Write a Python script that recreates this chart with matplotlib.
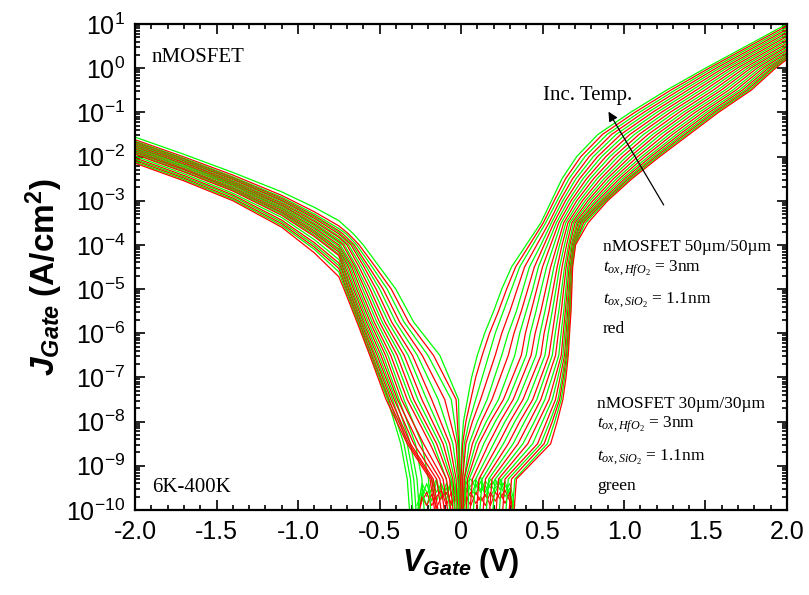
import numpy as np
import matplotlib.pyplot as plt
from matplotlib.ticker import FixedLocator, FixedFormatter, LogLocator, NullFormatter, MultipleLocator

plt.rcParams['font.family'] = 'Liberation Sans'
plt.rcParams['mathtext.fontset'] = 'custom'
plt.rcParams['mathtext.rm'] = 'Liberation Serif'
plt.rcParams['mathtext.it'] = 'Liberation Serif:italic'
plt.rcParams['mathtext.sf'] = 'Liberation Sans'
plt.rcParams['mathtext.bf'] = 'Liberation Sans:bold'
plt.rcParams['mathtext.bfit'] = 'Liberation Sans:italic:bold'
plt.rcParams['axes.unicode_minus'] = False

# curves ordered from hottest (index 0) to coldest (index 23),
# alternating the 30um device (green) and the 50um device (red)
curve_color = ['#00ff00', '#ff0000'] * 12

# ---- positive gate bias: V where each curve crosses log10(J) = level ----
pos_levels = [-10.3, -9.3, -8.5, -8.0, -7.5, -7.0, -6.5, -6.0, -5.5, -5.0, -4.5, -4.0,
              -3.5, -3.0, -2.5, -2.0, -1.5, -1.0, -0.5, 0.0]
pos_v_m103 = [0.0, 0.0, 0.0, 0.0, 0.01, 0.01, 0.02, 0.03, 0.04, 0.05, 0.07, 0.09,
              0.11, 0.13, 0.15, 0.17, 0.19, 0.21, 0.23, 0.25, 0.27, 0.29, 0.31, 0.32]
pos_v_m93 = [0.0, 0.0, 0.01, 0.01, 0.02, 0.02, 0.03, 0.04, 0.05, 0.07, 0.09, 0.11,
             0.13, 0.15, 0.17, 0.19, 0.21, 0.23, 0.25, 0.27, 0.29, 0.31, 0.33, 0.34]
pos_v_m85 = [0.005, 0.01, 0.02, 0.03, 0.05, 0.07, 0.09, 0.11, 0.14, 0.17, 0.20, 0.23,
             0.26, 0.29, 0.32, 0.35, 0.38, 0.41, 0.44, 0.47, 0.49, 0.51, 0.53, 0.55]
pos_v_m80 = [0.015, 0.03, 0.05, 0.07, 0.10, 0.125, 0.155, 0.18, 0.21, 0.24, 0.27, 0.30,
             0.33, 0.36, 0.39, 0.42, 0.45, 0.475, 0.50, 0.525, 0.545, 0.56, 0.575, 0.59]
pos_v_m75 = [0.04, 0.06, 0.09, 0.12, 0.16, 0.19, 0.23, 0.26, 0.29, 0.32, 0.35, 0.38,
             0.41, 0.44, 0.465, 0.49, 0.515, 0.54, 0.56, 0.58, 0.595, 0.605, 0.615, 0.625]
pos_v_m70 = [0.065, 0.09, 0.13, 0.165, 0.205, 0.24, 0.28, 0.315, 0.345, 0.375, 0.405, 0.435,
             0.462, 0.49, 0.512, 0.535, 0.558, 0.578, 0.594, 0.608, 0.62, 0.628, 0.636, 0.644]
pos_v_m65 = [0.10, 0.13, 0.17, 0.21, 0.25, 0.29, 0.33, 0.37, 0.40, 0.43, 0.46, 0.49,
             0.515, 0.54, 0.56, 0.58, 0.60, 0.615, 0.625, 0.635, 0.642, 0.648, 0.653, 0.658]
pos_v_m60 = [0.145, 0.175, 0.21, 0.25, 0.29, 0.325, 0.36, 0.395, 0.425, 0.455, 0.485, 0.51,
             0.535, 0.56, 0.578, 0.597, 0.614, 0.627, 0.636, 0.645, 0.651, 0.657, 0.662, 0.666]
pos_v_m55 = [0.20, 0.23, 0.26, 0.30, 0.34, 0.37, 0.40, 0.43, 0.46, 0.49, 0.515, 0.54,
             0.56, 0.58, 0.60, 0.615, 0.63, 0.64, 0.648, 0.655, 0.661, 0.666, 0.671, 0.675]
pos_v_m50 = [0.25, 0.28, 0.31, 0.345, 0.38, 0.41, 0.44, 0.465, 0.492, 0.52, 0.543, 0.565,
             0.583, 0.60, 0.618, 0.63, 0.643, 0.652, 0.659, 0.665, 0.67, 0.674, 0.677, 0.68]
pos_v_m45 = [0.31, 0.335, 0.36, 0.39, 0.42, 0.45, 0.475, 0.50, 0.525, 0.55, 0.57, 0.59,
             0.605, 0.62, 0.635, 0.645, 0.655, 0.663, 0.669, 0.674, 0.678, 0.681, 0.683, 0.685]
pos_v_m40 = [0.40, 0.42, 0.44, 0.465, 0.49, 0.51, 0.53, 0.55, 0.57, 0.59, 0.605, 0.62,
             0.635, 0.648, 0.66, 0.668, 0.676, 0.683, 0.688, 0.692, 0.695, 0.698, 0.70, 0.703]
pos_v_m35 = [0.49, 0.505, 0.52, 0.54, 0.555, 0.57, 0.585, 0.60, 0.615, 0.63, 0.643, 0.656,
             0.668, 0.68, 0.69, 0.70, 0.71, 0.718, 0.726, 0.734, 0.742, 0.752, 0.764, 0.78]
pos_v_m30 = [0.555, 0.572, 0.59, 0.607, 0.624, 0.641, 0.659, 0.676, 0.693, 0.71, 0.728, 0.745,
             0.762, 0.778, 0.793, 0.809, 0.824, 0.838, 0.852, 0.864, 0.874, 0.883, 0.892, 0.90]
pos_v_m25 = [0.62, 0.642, 0.663, 0.685, 0.706, 0.728, 0.749, 0.771, 0.792, 0.814, 0.835, 0.857,
             0.878, 0.897, 0.917, 0.936, 0.955, 0.973, 0.99, 1.005, 1.018, 1.029, 1.04, 1.05]
pos_v_m20 = [0.71, 0.736, 0.761, 0.787, 0.812, 0.838, 0.863, 0.889, 0.914, 0.94, 0.965, 0.991,
             1.016, 1.039, 1.062, 1.085, 1.108, 1.128, 1.149, 1.166, 1.182, 1.196, 1.208, 1.22]
pos_v_m15 = [0.84, 0.868, 0.896, 0.924, 0.952, 0.98, 1.008, 1.036, 1.064, 1.092, 1.12, 1.148,
             1.176, 1.201, 1.226, 1.252, 1.277, 1.299, 1.322, 1.341, 1.358, 1.373, 1.387, 1.40]
pos_v_m10 = [1.04, 1.067, 1.094, 1.121, 1.148, 1.175, 1.202, 1.229, 1.256, 1.283, 1.31, 1.337,
             1.364, 1.388, 1.413, 1.437, 1.461, 1.483, 1.504, 1.523, 1.54, 1.554, 1.568, 1.58]
pos_v_m05 = [1.26, 1.286, 1.312, 1.338, 1.364, 1.39, 1.416, 1.442, 1.468, 1.494, 1.52, 1.546,
             1.572, 1.595, 1.619, 1.642, 1.666, 1.686, 1.707, 1.725, 1.741, 1.755, 1.768, 1.78]
pos_v_0 = [1.50, 1.522, 1.543, 1.565, 1.586, 1.608, 1.629, 1.651, 1.672, 1.694, 1.715, 1.737,
           1.758, 1.777, 1.797, 1.816, 1.835, 1.853, 1.87, 1.885, 1.898, 1.909, 1.92, 1.93]
# log10(J) at V = +2 V
pos_j_2v = [1.00, 0.96, 0.92, 0.88, 0.84, 0.80, 0.76, 0.72, 0.68, 0.64, 0.60, 0.56,
            0.52, 0.484, 0.448, 0.412, 0.376, 0.344, 0.312, 0.284, 0.26, 0.238, 0.218, 0.20]

# ---- negative gate bias ----
# log10(J) at fixed voltages on the tunnelling side
neg_v_fixed = [-2.0, -1.7, -1.4, -1.1, -0.9, -0.75]
neg_j_m200 = [-1.56, -1.62, -1.65, -1.67, -1.69, -1.71, -1.73, -1.75, -1.77, -1.79, -1.81, -1.83,
              -1.85, -1.87, -1.89, -1.91, -1.93, -1.95, -1.99, -2.03, -2.06, -2.09, -2.12, -2.15]
neg_j_m170 = [-1.95, -2.01, -2.04, -2.06, -2.08, -2.10, -2.12, -2.14, -2.17, -2.18, -2.20, -2.23,
              -2.24, -2.27, -2.29, -2.30, -2.33, -2.35, -2.39, -2.43, -2.46, -2.49, -2.52, -2.55]
neg_j_m140 = [-2.36, -2.42, -2.46, -2.48, -2.50, -2.52, -2.55, -2.57, -2.59, -2.61, -2.63, -2.65,
              -2.67, -2.70, -2.72, -2.74, -2.76, -2.78, -2.83, -2.87, -2.90, -2.94, -2.97, -3.00]
neg_j_m110 = [-2.80, -2.88, -2.92, -2.95, -2.98, -3.00, -3.03, -3.06, -3.09, -3.11, -3.14, -3.17,
              -3.19, -3.22, -3.25, -3.27, -3.30, -3.33, -3.38, -3.44, -3.48, -3.52, -3.56, -3.60]
neg_j_m090 = [-3.15, -3.25, -3.30, -3.34, -3.37, -3.40, -3.44, -3.47, -3.51, -3.54, -3.57, -3.61,
              -3.64, -3.68, -3.71, -3.74, -3.78, -3.81, -3.88, -3.95, -4.00, -4.05, -4.10, -4.18]
neg_j_m075 = [-3.45, -3.57, -3.63, -3.68, -3.71, -3.75, -3.80, -3.83, -3.88, -3.92, -3.95, -4.00,
              -4.04, -4.09, -4.12, -4.16, -4.21, -4.24, -4.33, -4.41, -4.47, -4.53, -4.61, -4.72]
# V where each curve crosses log10(J) = level, towards 0 V
# (None: the curve is already below that level at -0.75 V)
neg_levels = [-3.75, -4.0, -4.5, -5.0, -5.75, -6.5, -7.5, -8.5, -9.3, -10.3]
neg_v_m375 = [-0.66, -0.69, -0.705, -0.725, -0.74, None, None, None, None, None, None, None,
              None, None, None, None, None, None, None, None, None, None, None, None]
neg_v_m40 = [-0.60, -0.625, -0.64, -0.655, -0.665, -0.675, -0.69, -0.70, -0.715, -0.725, -0.74, None,
             None, None, None, None, None, None, None, None, None, None, None, None]
neg_v_m45 = [-0.50, -0.525, -0.545, -0.565, -0.58, -0.595, -0.61, -0.625, -0.64, -0.65, -0.66, -0.67,
             -0.68, -0.69, -0.70, -0.71, -0.718, -0.725, -0.732, -0.738, -0.745, None, None, None]
neg_v_m50 = [-0.40, -0.428, -0.453, -0.478, -0.499, -0.521, -0.54, -0.558, -0.574, -0.589, -0.603, -0.617,
             -0.629, -0.64, -0.651, -0.66, -0.67, -0.677, -0.685, -0.691, -0.698, -0.704, -0.711, -0.718]
neg_v_m575 = [-0.29, -0.321, -0.349, -0.376, -0.40, -0.425, -0.445, -0.466, -0.483, -0.50, -0.516, -0.532,
              -0.545, -0.557, -0.569, -0.58, -0.59, -0.599, -0.607, -0.614, -0.621, -0.626, -0.632, -0.638]
neg_v_m65 = [-0.13, -0.169, -0.203, -0.238, -0.268, -0.298, -0.324, -0.349, -0.371, -0.392, -0.412, -0.431,
             -0.448, -0.463, -0.478, -0.491, -0.504, -0.515, -0.526, -0.534, -0.543, -0.549, -0.556, -0.56]
neg_v_m75 = [-0.015, -0.03, -0.06, -0.10, -0.14, -0.18, -0.21, -0.24, -0.265, -0.29, -0.31, -0.33,
             -0.35, -0.365, -0.38, -0.39, -0.40, -0.41, -0.42, -0.43, -0.44, -0.445, -0.45, -0.46]
neg_v_m85 = [-0.01, -0.015, -0.02, -0.03, -0.05, -0.07, -0.09, -0.11, -0.13, -0.15, -0.17, -0.19,
             -0.24, -0.23, -0.28, -0.26, -0.31, -0.29, -0.33, -0.31, -0.35, -0.32, -0.37, -0.33]
neg_v_m93 = [-0.005, -0.008, -0.01, -0.015, -0.02, -0.03, -0.04, -0.05, -0.06, -0.07, -0.09, -0.09,
             -0.20, -0.11, -0.24, -0.13, -0.27, -0.15, -0.29, -0.17, -0.31, -0.18, -0.33, -0.19]
neg_v_m103 = [0.0, -0.005, -0.005, -0.01, -0.01, -0.02, -0.02, -0.03, -0.03, -0.04, -0.06, -0.05,
              -0.18, -0.07, -0.22, -0.09, -0.25, -0.11, -0.27, -0.13, -0.29, -0.14, -0.31, -0.15]

# ---- measurement floor around 0 V (log10 J) ----
noise_v = [-0.27, -0.24, -0.21, -0.18, -0.15, -0.12, -0.09, -0.06, -0.03, 0.0, 0.03,
           0.06, 0.09, 0.12, 0.15, 0.18, 0.21, 0.24, 0.27, 0.30, 0.33]
green_noise_a = [-9.9, -9.5, -9.7, -9.3, -9.6, -9.4, -9.8, -9.3, -9.6, -9.9, -9.4,
                 -9.3, -9.5, -9.25, -9.6, -9.3, -9.45, -9.3, -9.6, -9.4, -9.9]
green_noise_b = [-10.2, -9.7, -9.4, -9.8, -9.35, -9.7, -9.5, -9.9, -9.4, -10.1, -9.6,
                 -9.45, -9.3, -9.55, -9.35, -9.5, -9.3, -9.55, -9.35, -9.7, -10.2]
green_noise_c = [-10.3, -9.6, -9.9, -9.5, -9.8, -9.45, -9.65, -9.4, -9.7, -10.0, -9.5,
                 -9.7, -9.4, -9.6, -9.45, -9.7, -9.5, -9.4, -9.7, -9.5, -10.3]
green_noise_d = [-10.1, -9.4, -9.6, -9.55, -9.3, -9.75, -9.4, -9.6, -9.5, -9.8, -9.35,
                 -9.55, -9.65, -9.35, -9.7, -9.4, -9.6, -9.35, -9.45, -9.6, -10.0]
red_noise_a = [-10.2, -9.8, -9.6, -9.9, -9.7, -9.55, -9.9, -9.6, -9.8, -10.0, -9.7,
               -9.9, -9.6, -9.8, -9.65, -9.9, -9.6, -9.75, -9.55, -9.8, -10.2]
red_noise_b = [-10.3, -9.7, -9.9, -9.65, -9.95, -9.7, -9.6, -9.85, -9.65, -10.1, -9.8,
               -9.6, -9.85, -9.7, -9.9, -9.6, -9.8, -9.6, -9.85, -9.6, -10.3]

x_ticks = [-2.0, -1.5, -1.0, -0.5, 0.0, 0.5, 1.0, 1.5, 2.0]
x_tick_labels = ['-2.0', '-1.5', '-1.0', '-0.5', '0', '0.5', '1.0', '1.5', '2.0']
y_exponents = list(range(-10, 2))

pos_v = [pos_v_m103, pos_v_m93, pos_v_m85, pos_v_m80, pos_v_m75, pos_v_m70, pos_v_m65,
         pos_v_m60, pos_v_m55, pos_v_m50, pos_v_m45, pos_v_m40, pos_v_m35, pos_v_m30,
         pos_v_m25, pos_v_m20, pos_v_m15, pos_v_m10, pos_v_m05, pos_v_0]
neg_j = [neg_j_m200, neg_j_m170, neg_j_m140, neg_j_m110, neg_j_m090, neg_j_m075]
neg_v = [neg_v_m375, neg_v_m40, neg_v_m45, neg_v_m50, neg_v_m575, neg_v_m65, neg_v_m75,
         neg_v_m85, neg_v_m93, neg_v_m103]

fig = plt.figure(figsize=(8.09, 5.95), dpi=100)
ax = fig.add_axes([0.1669, 0.1429, 0.8059, 0.8168])

# noise floor traces first, the sweeps on top
for trace in (green_noise_a, green_noise_b, green_noise_c, green_noise_d):
    ax.plot(noise_v, 10.0 ** np.array(trace), color='#00ff00', lw=0.8)
for trace in (red_noise_a, red_noise_b):
    ax.plot(noise_v, 10.0 ** np.array(trace), color='#ff0000', lw=0.8)

for i in range(len(curve_color)):
    v = list(neg_v_fixed)
    logj = [col[i] for col in neg_j]
    for lvl, col in zip(neg_levels, neg_v):
        if col[i] is not None:
            v.append(col[i])
            logj.append(lvl)
    v += [col[i] for col in pos_v] + [2.0]
    logj += pos_levels + [pos_j_2v[i]]
    ax.plot(v, 10.0 ** np.array(logj), color=curve_color[i], lw=0.9)

ax.set_yscale('log')
ax.set_xlim(-2.0, 2.0)
ax.set_ylim(1e-10, 1e1)

ax.xaxis.set_major_locator(FixedLocator(x_ticks))
ax.xaxis.set_major_formatter(FixedFormatter(x_tick_labels))
ax.xaxis.set_minor_locator(MultipleLocator(0.1))
ax.yaxis.set_major_locator(FixedLocator([10.0 ** k for k in y_exponents]))
ax.yaxis.set_major_formatter(FixedFormatter([r'$\mathsf{10^{%d}}$' % k for k in y_exponents]))
ax.yaxis.set_minor_locator(LogLocator(base=10, subs=np.arange(2, 10), numticks=20))
ax.yaxis.set_minor_formatter(NullFormatter())

ax.tick_params(which='both', direction='in', top=True, right=True, width=1.2)
ax.tick_params(which='major', length=7, labelsize=18, pad=7)
ax.tick_params(which='minor', length=3.5)
for sp in ax.spines.values():
    sp.set_linewidth(1.6)

ax.set_xlabel(r'$\mathbfit{V}_{\mathbfit{Gate}}\ \mathbf{(V)}$', fontsize=22, labelpad=2)
ax.set_ylabel(r'$\mathbfit{J}_{\mathbfit{Gate}}\ \mathbf{(A/cm^{2})}$', fontsize=24)
ax.yaxis.set_label_coords(-0.108, 0.48)

serif = 'Liberation Serif'
ax.text(0.026, 0.922, 'nMOSFET', transform=ax.transAxes, fontsize=15, family=serif)
ax.text(0.026, 0.037, '6K-400K', transform=ax.transAxes, fontsize=15, family=serif)
ax.text(0.626, 0.844, 'Inc. Temp.', transform=ax.transAxes, fontsize=15, family=serif)
ax.annotate('', xy=(0.896, 10 ** -0.93), xytext=(1.252, 10 ** -3.15),
            arrowprops=dict(arrowstyle='-|>', color='black', lw=0.9, mutation_scale=14))

# device descriptions
x1 = (603 - 135) / 652
ax.text(x1, (510 - 251) / 486, 'nMOSFET 50µm/50µm', transform=ax.transAxes, fontsize=12.5, family=serif)
ax.text(x1, (510 - 272) / 486, r'$t_{ox,HfO_2}$ = 3nm', transform=ax.transAxes, fontsize=12.5, family=serif)
ax.text(x1, (510 - 303) / 486, r'$t_{ox,SiO_2}$ = 1.1nm', transform=ax.transAxes, fontsize=12.5, family=serif)
ax.text(x1, (510 - 333) / 486, 'red', transform=ax.transAxes, fontsize=12.5, family=serif)
x2 = (597 - 135) / 652
ax.text(x2, (510 - 408) / 486, 'nMOSFET 30µm/30µm', transform=ax.transAxes, fontsize=12.5, family=serif)
ax.text(x2, (510 - 428) / 486, r'$t_{ox,HfO_2}$ = 3nm', transform=ax.transAxes, fontsize=12.5, family=serif)
ax.text(x2, (510 - 460) / 486, r'$t_{ox,SiO_2}$ = 1.1nm', transform=ax.transAxes, fontsize=12.5, family=serif)
ax.text(x2, (510 - 490) / 486, 'green', transform=ax.transAxes, fontsize=12.5, family=serif)

fig.savefig('out.png', dpi=100)
